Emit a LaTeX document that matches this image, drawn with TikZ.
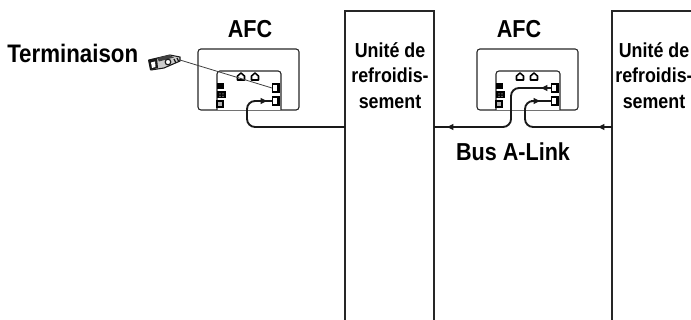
\documentclass[tikz,border=0pt]{standalone}
\usepackage{fontspec}
\setmainfont{Liberation Sans}[FakeStretch=0.88]
\usetikzlibrary{arrows.meta}
\tikzset{
  unitbox/.style={draw=black!85,line width=1.6pt},
  afcbox/.style={draw=black!85,line width=.8pt,rounded corners=2.2pt},
  cable/.style={draw=black!90,line width=1.4pt,rounded corners=6pt},
  tip/.style={-{Latex[length=5.5pt,width=5pt]},draw=black!90,line width=1pt},
  term/.style={draw=black!90,line width=.8pt},
  big/.style={font=\fontsize{18.4}{21}\selectfont\bfseries,inner sep=0pt},
  bigger/.style={font=\fontsize{19}{21}\selectfont\bfseries,inner sep=0pt},
  small/.style={font=\fontsize{15.2}{19.2}\selectfont\bfseries,inner sep=0pt,align=center},
  port/.style={draw=black,line width=1pt,fill=white,minimum width=5pt,minimum height=6pt,inner sep=0pt},
  topport/.style={draw=black,line width=1.15pt,fill=white,line join=round},
  blk/.style={fill=black,inner sep=0pt},
}
\newcommand{\afcboard}[2]{%
  \begin{scope}[shift={(#1,0)}]
    \draw[afcbox] (0,49) rectangle (101,110);
    \fill[white] (19,71) rectangle (83,110);
    \draw[afcbox] (19,110) -- (19,71) -- (83,71) -- (83,110);
    \draw[topport] (39.5,80) -- (39.5,76) -- (43,73) -- (46.5,76) -- (46.5,80) -- cycle;
    \draw[topport] (53.5,80) -- (53.5,76) -- (57,73) -- (60.5,76) -- (60.5,80) -- cycle;
    \node[port] (#2p1) at (78,88) {};
    \node[port] (#2p2) at (78,101) {};
    \fill[black] (79,85) rectangle (81.5,91);
    \fill[black] (79,98) rectangle (81.5,104);
    \node[blk,minimum width=5.2pt,minimum height=4.6pt] (#2b1) at (22.5,86) {};
    \node[blk,minimum width=6.5pt,minimum height=5.2pt] (#2b2) at (23.5,94.5) {};
    \fill[white] (21.5,93.5) rectangle (22.3,94.3) (24.5,93.5) rectangle (25.3,94.3) (21.5,96) rectangle (22.3,96.8) (24.5,96) rectangle (25.3,96.8);
    \node[draw=black,line width=1pt,fill=black!30,minimum width=4.5pt,minimum height=4.5pt,inner sep=0pt] (#2b3) at (22,104) {};
  \end{scope}}
\begin{document}
\begin{tikzpicture}[x=.75pt,y=-.75pt]
\useasboundingbox (0,0) rectangle (691,320);
\clip (0,0) rectangle (691,320);
% cooling units
\draw[unitbox] (345,320) -- (345,11) -- (434,11) -- (434,320);
\draw[unitbox] (612,320) -- (612,11) -- (700,11);
\coordinate (u1l) at (345,127);
\coordinate (u1r) at (434,127);
\coordinate (u2l) at (612,127);
% boards
\afcboard{198}{a}
\afcboard{477}{b}
% labels
\node[big] (afc1) at (250,29) {AFC};
\node[big] (afc2) at (519,29) {AFC};
\node[bigger,anchor=west] (termlabel) at (7,53) {Terminaison};
\node[big] (bus) at (513,152) {Bus A-Link};
\node[small] (unit1) at (390,75.5) {Unité de\\refroidis-\\sement};
\node[small] (unit2) at (654,75.5) {Unité de\\refroidis-\\sement};
% terminator
\coordinate (termend) at (180,60);
\begin{scope}[term]
  \draw[fill=black!20] (149,60) -- (170,55) -- (180,57) -- (180,61) -- (164,68) -- (151,70) -- cycle;
  \fill[black!90] (148,60) -- (157,58) -- (158,68) -- (150,70) -- cycle;
  \fill[white] (151,62.5) -- (155,61.5) -- (155.5,67) -- (152,68) -- cycle;
  \fill[black!75] (157,58) -- (169,55) -- (174,57.5) -- (159,61.5) -- cycle;
  \draw[fill=white,line width=.9pt] (168,62) circle (2.8);
  \draw[line width=.9pt] (174,59) -- (176,63) (177,58) -- (179,62);
\end{scope}
% connectors
\draw[draw=black!75,line width=.6pt] (termend) -- (ap1.west);
\draw[cable] (u1l) -| (247,101) -- (ap2.west);
\draw[cable] (bp1.west) -- (511,88) -- (511,127) -- (u1r);
\draw[cable] (u2l) -- (525,127) -- (525,101) -- (bp2.west);
% arrowheads
\coordinate (ar1a) at (258,101); \coordinate (ar1b) at (268,101);
\coordinate (ar2a) at (550,88); \coordinate (ar2b) at (540,88);
\coordinate (ar3a) at (456,127); \coordinate (ar3b) at (446,127);
\coordinate (ar4a) at (531,101); \coordinate (ar4b) at (541,101);
\coordinate (ar5a) at (607,127); \coordinate (ar5b) at (597,127);
\foreach \n in {1,...,5} \draw[tip] (ar\n a) -- (ar\n b);
\end{tikzpicture}
\end{document}
